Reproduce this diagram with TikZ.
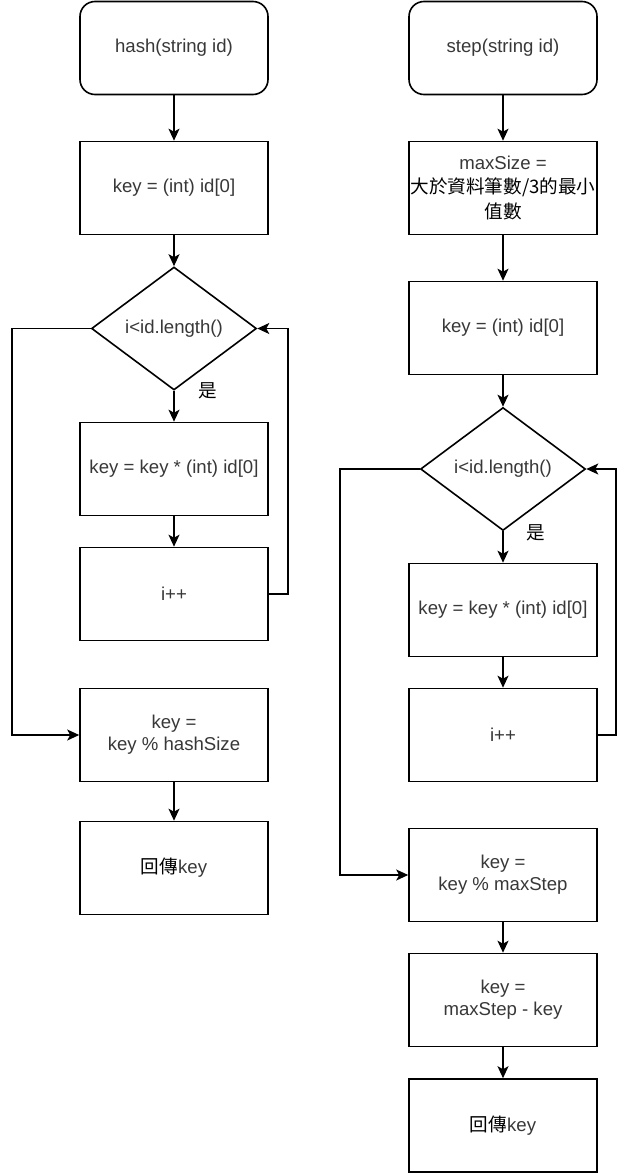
\documentclass[tikz,border=0pt]{standalone}
\usepackage{fontspec}
\setmainfont{Liberation Sans}
\newfontfamily\cjk{Noto Sans CJK TC}
\usetikzlibrary{shapes.geometric,arrows.meta}
\newcommand\zhtext[1]{{\cjk\color{black}#1}}
\begin{document}
\begin{tikzpicture}[x=1pt,y=-1pt,
  every node/.style={font=\fontsize{18.6}{22}\selectfont, text=black!78},
  proc/.style={draw=black, line width=1.6pt, fill=white, minimum width=188pt, minimum height=93pt, inner sep=0pt, align=center},
  startbox/.style={proc, rounded corners=15pt},
  decide/.style={draw=black, line width=1.6pt, fill=white, diamond, shape aspect=1.33, minimum width=165pt, minimum height=123pt, inner sep=0pt},
  arr/.style={draw=black, line width=1.6pt, -{Stealth[length=12pt,width=11pt,inset=3pt]}},
  yes/.style={inner sep=0pt, text=black}
]
\useasboundingbox (0,0) rectangle (630,1173);
\fill[white] (0,0) rectangle (630,1173);

% ---------- left column ----------
\node[startbox] (s1) at (174,48) {hash(string id)};
\node[proc] (b1) at (174,188) {key = (int) id[0]};
\node[decide] (d1) at (174,328.5) {i\textless id.length()};
\node[proc] (b2) at (174,469) {key = key * (int) id[0]};
\node[proc] (b3) at (174,594) {i++};
\node[proc] (b4) at (174,735) {key =\\key \% hashSize};
\node[proc] (b5) at (174,868) {\zhtext{回傳}key};
\node[yes] (y1) at (208,391) {\zhtext{是}};

\coordinate (lr) at (288,0);
\coordinate (ll) at (12,0);

\draw[arr] (s1) -- (b1);
\draw[arr] (b1) -- (d1);
\draw[arr] (d1) -- (b2);
\draw[arr] (b2) -- (b3);
\draw[arr] (b3.east) -- (b3.east -| lr) |- (d1.east);
\draw[arr] (d1.west) -- (d1.west -| ll) |- (b4.west);
\draw[arr] (b4) -- (b5);

% ---------- right column ----------
\node[startbox] (s2) at (503,48) {step(string id)};
\node[proc, font=\fontsize{18.6}{24.5}\selectfont] (m1) at (503,188) {maxSize =\\\zhtext{大於資料筆數/3的最小}\\\zhtext{值數}};
\node[proc] (m2) at (503,328) {key = (int) id[0]};
\node[decide] (d2) at (503,469) {i\textless id.length()};
\node[proc] (m3) at (503,610) {key = key * (int) id[0]};
\node[proc] (m4) at (503,735) {i++};
\node[proc] (m5) at (503,875) {key =\\key \% maxStep};
\node[proc] (m6) at (503,1000) {key =\\maxStep - key};
\node[proc] (m7) at (503,1125.5) {\zhtext{回傳}key};
\node[yes] (y2) at (536,533) {\zhtext{是}};

\coordinate (rr) at (616,0);
\coordinate (rl) at (340,0);

\draw[arr] (s2) -- (m1);
\draw[arr] (m1) -- (m2);
\draw[arr] (m2) -- (d2);
\draw[arr] (d2) -- (m3);
\draw[arr] (m3) -- (m4);
\draw[arr] (m4.east) -- (m4.east -| rr) |- (d2.east);
\draw[arr] (d2.west) -- (d2.west -| rl) |- (m5.west);
\draw[arr] (m5) -- (m6);
\draw[arr] (m6) -- (m7);
\end{tikzpicture}
\end{document}
